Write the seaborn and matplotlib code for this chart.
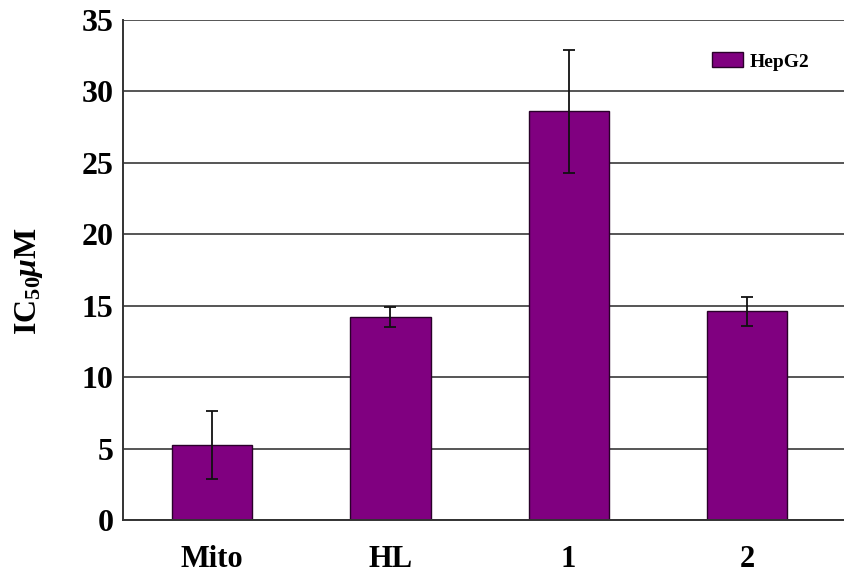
import matplotlib
matplotlib.use("Agg")
import matplotlib.pyplot as plt
import seaborn as sns
import pandas as pd
import numpy as np
from matplotlib.patches import Patch

# IC50 values (µM) against HepG2 cells
compounds = ["Mito", "HL", "1", "2"]
ic50 = [5.25, 14.2, 28.6, 14.6]
ic50_err = [2.4, 0.7, 4.3, 1.0]
series = "HepG2"

sns.set_theme(style="white")
plt.rcParams["font.family"] = ["Liberation Serif", "DejaVu Serif"]
plt.rcParams["mathtext.fontset"] = "custom"
plt.rcParams["mathtext.rm"] = "Liberation Serif:bold"
plt.rcParams["mathtext.it"] = "Liberation Serif:bold:italic"
plt.rcParams["mathtext.bf"] = "Liberation Serif:bold"
plt.rcParams["text.color"] = "black"
plt.rcParams["axes.labelcolor"] = "black"
plt.rcParams["xtick.color"] = "black"
plt.rcParams["ytick.color"] = "black"

df = pd.DataFrame({"compound": compounds, "ic50": ic50, "err": ic50_err})

fig = plt.figure(figsize=(8.45, 5.77), dpi=100)
ax = fig.add_axes([123 / 845, 1 - 520 / 577, (845 - 123) / 845, (520 - 20) / 577])

ax.set_axisbelow(True)
ax.yaxis.grid(True, color="#555555", linewidth=1.4)
sns.barplot(data=df, x="compound", y="ic50", color="#800080", width=0.45,
            edgecolor="#2a002a", linewidth=1.0, saturation=1, ax=ax, errorbar=None)
ax.errorbar(np.arange(len(compounds)), df["ic50"], yerr=df["err"], fmt="none",
            ecolor="#111111", elinewidth=1.3, capsize=4.5, capthick=1.3)

ax.set_ylim(0, 35)
ax.set_yticks(np.arange(0, 36, 5))
ax.set_xlim(-0.5, 3.55)
ax.set_xlabel("")
ax.set_ylabel(r"IC$_{50}$$\mu$M", fontsize=23, fontweight="bold")
ax.yaxis.set_label_coords(-0.108, 0.478)
ax.tick_params(axis="y", direction="in", length=6, width=1.2, colors="black",
               labelsize=23, pad=7)
ax.tick_params(axis="x", length=0, labelsize=22, pad=18, colors="black")
for lbl in ax.get_yticklabels() + ax.get_xticklabels():
    lbl.set_fontweight("bold")

for side in ["top", "right"]:
    ax.spines[side].set_visible(False)
for side in ["left", "bottom"]:
    ax.spines[side].set_color("#333333")
    ax.spines[side].set_linewidth(1.4)

handles = [Patch(facecolor="#800080", edgecolor="#2a002a", label=series)]
ax.legend(handles=handles, loc="upper right", bbox_to_anchor=(0.975, 0.97), frameon=False,
          prop={"family": "Liberation Serif", "weight": "bold", "size": 14},
          handlelength=1.6, handleheight=0.8, handletextpad=0.35)

fig.savefig("out.png", dpi=100)
